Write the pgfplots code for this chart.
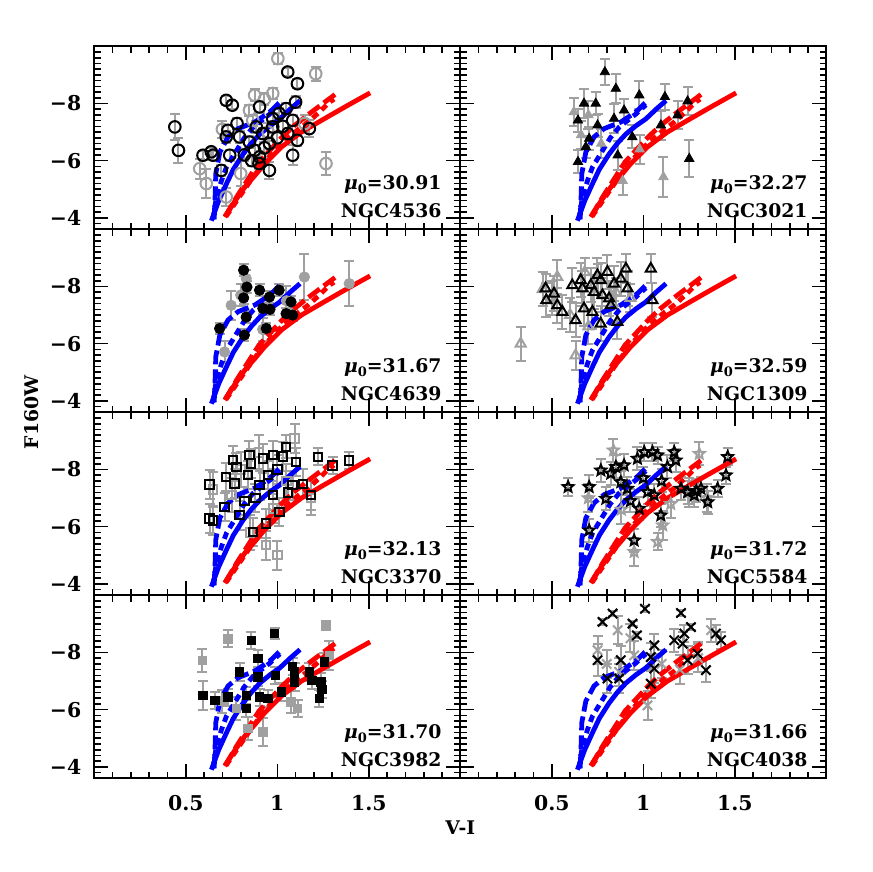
\documentclass[border=0pt]{standalone}
\usepackage{fontspec}
\setmainfont{DejaVu Serif}
\usepackage{pgfplots}
\usepackage{pgfplotstable}
\pgfplotsset{compat=1.18}
\usetikzlibrary{plotmarks}

\definecolor{mygray}{RGB}{160,160,160}
\definecolor{myblue}{RGB}{0,0,255}
\definecolor{myred}{RGB}{255,0,0}

\newcommand{\ff}{\fontsize{9.4}{11}\selectfont\bfseries}

\pgfdeclareplotmark{ostar}{%
  \pgfpathmoveto{\pgfpointpolar{90}{\pgfplotmarksize}}%
  \pgfpathlineto{\pgfpointpolar{126}{0.45\pgfplotmarksize}}%
  \pgfpathlineto{\pgfpointpolar{162}{\pgfplotmarksize}}%
  \pgfpathlineto{\pgfpointpolar{198}{0.45\pgfplotmarksize}}%
  \pgfpathlineto{\pgfpointpolar{234}{\pgfplotmarksize}}%
  \pgfpathlineto{\pgfpointpolar{270}{0.45\pgfplotmarksize}}%
  \pgfpathlineto{\pgfpointpolar{306}{\pgfplotmarksize}}%
  \pgfpathlineto{\pgfpointpolar{342}{0.45\pgfplotmarksize}}%
  \pgfpathlineto{\pgfpointpolar{18}{\pgfplotmarksize}}%
  \pgfpathlineto{\pgfpointpolar{54}{0.45\pgfplotmarksize}}%
  \pgfpathclose
  \pgfusepathqstroke
}

\pgfplotstableread{
x y
0.640 -3.90
0.680 -4.60
0.722 -5.19
0.760 -5.70
0.813 -6.23
0.860 -6.62
0.905 -6.93
0.960 -7.22
1.014 -7.46
1.070 -7.80
1.124 -8.10
}\bsolid
\pgfplotstableread{
x y
0.648 -3.95
0.667 -4.72
0.695 -5.30
0.722 -5.77
0.777 -6.35
0.820 -6.80
0.868 -7.17
0.959 -7.63
1.014 -7.95
}\binner
\pgfplotstableread{
x y
0.655 -3.95
0.660 -4.70
0.664 -5.55
0.686 -6.30
0.731 -6.83
0.786 -7.12
0.877 -7.35
0.959 -7.70
1.010 -8.02
}\bouter
\pgfplotstableread{
x y
0.713 -4.03
0.770 -4.60
0.823 -5.08
0.880 -5.50
0.932 -5.90
1.023 -6.48
1.132 -7.00
1.242 -7.41
1.370 -7.88
1.507 -8.37
}\rsolid
\pgfplotstableread{
x y
0.720 -4.05
0.800 -4.80
0.870 -5.45
0.940 -6.02
1.000 -6.45
1.060 -6.80
1.120 -7.12
1.169 -7.35
1.230 -7.70
1.280 -8.02
1.310 -8.15
}\rinner
\pgfplotstableread{
x y
0.715 -4.05
0.780 -4.75
0.840 -5.35
0.900 -5.95
0.968 -6.42
1.030 -6.85
1.096 -7.24
1.187 -7.70
1.260 -8.05
1.334 -8.40
}\router

\newcommand{\curves}{%
\addplot[myblue,line width=2.4pt,dash pattern=on 7pt off 2.5pt] table {\bouter};
\addplot[myblue,line width=2.4pt,dash pattern=on 3.5pt off 2.5pt] table {\binner};
\addplot[myblue,line width=2.4pt] table {\bsolid};
\addplot[myred,line width=2.4pt,dash pattern=on 7pt off 2.5pt] table {\router};
\addplot[myred,line width=2.4pt,dash pattern=on 3.5pt off 2.5pt] table {\rinner};
\addplot[myred,line width=2.4pt] table {\rsolid};
}

\newcommand{\plab}[4]{%
\node[anchor=base east,inner sep=0pt,font=\ff] at (#1+173.8pt,#2+20pt) {{\itshape μ}\raisebox{-0.45ex}{\fontsize{6.5}{7}\selectfont\bfseries 0}=#3};
\node[anchor=base east,inner sep=0pt,font=\ff] at (#1+173.8pt,#2+5.7pt) {#4};
}

\pgfplotsset{
panel/.style={
 scale only axis, width=183pt, height=91.5pt, anchor=south west,
 xmin=0, xmax=2, ymin=-10, ymax=-3.6, y dir=reverse,
 axis line style={line width=1pt},
 tick style={black, line width=0.8pt},
 major tick length=7pt, minor tick length=3.3pt,
 xtick={0.5,1,1.5}, minor xtick={0,0.1,...,2},
 ytick={-8,-6,-4}, minor ytick={-10,-9.8,...,-3.6},
 xticklabels={}, yticklabels={},
 tick align=inside,
 tick label style={font=\ff},
 xticklabel style={yshift=-5pt,font=\fontsize{10.2}{12}\selectfont\bfseries},
 yticklabel style={xshift=-3pt,font=\fontsize{10.2}{12}\selectfont\bfseries},
},
yl/.style={yticklabels={−8,−6,−4}},
xl/.style={xticklabels={0.5,1,1.5}},
errs/.style={only marks,
 /pgfplots/error bars/y dir=both,
 /pgfplots/error bars/y explicit,
 /pgfplots/error bars/error bar style={mygray,line width=1pt},
 /pgfplots/error bars/error mark options={rotate=90,mygray,line width=1pt,mark size=2.5pt}},
table/tb/.style={x index=0,y index=1,y error index=2,row sep=\\,header=false},
}

\begin{document}
\begin{tikzpicture}
\useasboundingbox (0,0) rectangle (436pt,436pt);

% ---------- Panel 1: NGC4536
\begin{axis}[panel,yl,at={(47.15pt,321.35pt)}]
\addplot[errs,mark=o,mark size=2.9pt,mark options={mygray,line width=1pt}] table[tb]{
1.003 -9.57 0.2\\ 1.21 -9.04 0.25\\ 0.876 -8.29 0.2\\ 0.975 -8.35 0.2\\ 0.93 -8.15 0.2\\
0.848 -7.76 0.2\\ 0.866 -7.41 0.2\\ 0.576 -5.72 0.35\\ 0.612 -5.2 0.5\\ 0.721 -4.73 0.3\\
1.266 -5.9 0.4\\ 0.70 -7.10 0.3\\ 0.80 -5.55 0.45\\ 1.15 -7.30 0.3\\ 0.95 -7.0 0.3\\
};
\addplot[errs,mark=o,mark size=2.9pt,mark options={black,line width=1pt}] table[tb]{
0.44 -7.18 0.45\\ 0.46 -6.36 0.45\\ 0.594 -6.19 0.15\\ 0.639 -6.31 0.15\\ 0.649 -6.19 0.15\\
0.721 -8.11 0.15\\ 0.754 -7.94 0.15\\ 0.73 -7.06 0.2\\ 0.721 -6.83 0.2\\ 0.74 -6.19 0.2\\
0.694 -5.66 0.2\\ 0.794 -6.83 0.2\\ 0.848 -6.65 0.2\\ 0.903 -7.88 0.2\\ 0.92 -6.95 0.2\\
0.876 -6.36 0.2\\ 0.903 -6.13 0.2\\ 0.957 -5.66 0.3\\ 0.975 -7.18 0.2\\ 1.01 -7.65 0.2\\
1.057 -9.10 0.15\\ 1.11 -8.69 0.15\\ 1.10 -8.05 0.2\\ 1.084 -7.41 0.2\\ 1.057 -6.95 0.2\\
1.084 -6.19 0.35\\ 1.11 -6.71 0.2\\ 1.175 -7.12 0.3\\ 0.957 -6.6 0.2\\ 1.048 -7.82 0.2\\
0.885 -7.18 0.2\\ 0.975 -7.47 0.2\\ 0.82 -6.2 0.2\\ 0.86 -6.0 0.2\\ 0.93 -6.45 0.2\\
1.0 -6.8 0.2\\ 0.78 -7.3 0.2\\ 1.03 -7.2 0.2\\ 0.90 -5.9 0.2\\
};
\curves
\end{axis}

% ---------- Panel 2: NGC3021
\begin{axis}[panel,at={(230.15pt,321.35pt)}]
\addplot[errs,mark=triangle*,mark size=2.7pt,mark options={mygray,fill=mygray}] table[tb]{
1.11 -5.43 0.7\\ 0.77 -6.6 0.5\\ 0.887 -5.3 0.5\\ 0.66 -6.9 0.5\\ 0.98 -6.4 0.5\\
0.70 -7.6 0.5\\ 0.62 -7.7 0.5\\
};
\addplot[errs,mark=triangle*,mark size=2.7pt,mark options={black,fill=black}] table[tb]{
0.79 -9.10 0.47\\ 0.85 -8.52 0.5\\ 0.978 -8.29 0.5\\ 1.118 -8.23 0.45\\ 1.242 -8.08 0.5\\
0.676 -8.0 0.5\\ 0.74 -8.0 0.4\\ 0.895 -7.76 0.4\\ 0.643 -7.41 0.4\\ 0.75 -7.24 0.4\\
0.84 -7.47 0.5\\ 0.704 -6.77 0.4\\ 0.686 -6.48 0.4\\ 0.94 -6.83 0.4\\ 0.643 -5.96 0.4\\
1.096 -7.24 0.5\\ 1.187 -7.59 0.5\\ 1.251 -6.07 0.65\\ 0.86 -6.19 0.5\\
};
\curves
\end{axis}

% ---------- Panel 3: NGC4639
\begin{axis}[panel,yl,at={(47.15pt,229.85pt)}]
\addplot[errs,mark=*,mark size=2.6pt,mark options={mygray,fill=mygray}] table[tb]{
1.148 -8.33 0.8\\ 1.393 -8.1 0.8\\ 0.748 -7.34 0.5\\ 0.712 -5.71 0.4\\ 0.83 -8.28 0.3\\
0.92 -6.5 0.4\\ 1.05 -7.5 0.5\\ 0.80 -7.7 0.4\\
};
\addplot[errs,mark=*,mark size=2.6pt,mark options={black,fill=black}] table[tb]{
0.816 -8.57 0.2\\ 0.834 -7.98 0.2\\ 0.903 -7.87 0.2\\ 0.816 -7.6 0.2\\ 0.957 -7.63 0.2\\
1.01 -7.87 0.2\\ 0.921 -7.23 0.2\\ 0.83 -6.93 0.2\\ 0.685 -6.53 0.2\\ 0.94 -6.53 0.2\\
1.075 -7.46 0.2\\ 1.048 -7.05 0.2\\ 1.084 -7.0 0.2\\ 0.82 -6.3 0.2\\ 0.96 -7.2 0.2\\
};
\curves
\end{axis}

% ---------- Panel 4: NGC1309
\begin{axis}[panel,at={(230.15pt,229.85pt)}]
\addplot[errs,mark=triangle,mark size=2.9pt,mark options={mygray,line width=1pt}] table[tb]{
0.33 -6.0 0.6\\ 0.63 -5.59 0.5\\ 0.53 -8.33 0.6\\ 0.5 -7.6 0.6\\ 0.6 -7.0 0.6\\
0.70 -6.6 0.6\\ 0.75 -8.3 0.5\\ 0.85 -7.8 0.5\\ 0.93 -7.6 0.5\\ 0.45 -7.9 0.6\\
0.68 -8.5 0.5\\
};
\addplot[errs,mark=triangle,mark size=2.9pt,mark options={black,line width=1pt}] table[tb]{
0.466 -7.93 0.5\\ 0.512 -7.75 0.6\\ 0.47 -7.52 0.6\\ 0.53 -7.34 0.6\\ 0.558 -7.11 0.6\\
0.612 -8.04 0.6\\ 0.658 -8.22 0.6\\ 0.667 -7.93 0.6\\ 0.713 -8.04 0.6\\ 0.749 -8.39 0.6\\
0.804 -8.51 0.6\\ 0.767 -8.22 0.6\\ 0.731 -7.81 0.6\\ 0.777 -7.69 0.6\\ 0.813 -7.58 0.6\\
0.84 -8.10 0.6\\ 0.905 -8.62 0.5\\ 0.877 -8.27 0.6\\ 1.041 -8.62 0.5\\ 0.676 -7.23 0.6\\
0.722 -7.11 0.6\\ 0.63 -6.82 0.6\\ 0.767 -6.70 0.6\\ 0.858 -6.76 0.6\\ 0.914 -7.93 0.6\\
1.05 -7.52 0.6\\ 0.822 -7.34 0.6\\
};
\curves
\end{axis}

% ---------- Panel 5: NGC3370
\begin{axis}[panel,yl,at={(47.15pt,138.35pt)}]
\addplot[errs,mark=square,mark size=2.1pt,mark options={mygray,line width=1pt}] table[tb]{
1.094 -9.08 0.5\\ 0.939 -5.35 0.5\\ 0.975 -6.63 0.5\\ 0.85 -5.8 0.6\\ 0.75 -7.1 0.6\\
0.65 -7.3 0.6\\ 1.184 -7.0 0.6\\ 0.80 -8.0 0.6\\ 0.90 -8.6 0.6\\ 1.0 -5.0 0.5\\
1.05 -7.6 0.6\\
};
\addplot[errs,mark=square,mark size=2.1pt,mark options={black,line width=1pt}] table[tb]{
0.63 -7.47 0.5\\ 0.63 -6.28 0.5\\ 0.649 -6.22 0.5\\ 0.712 -6.69 0.5\\ 0.721 -7.74 0.5\\
0.758 -8.33 0.5\\ 0.776 -8.09 0.5\\ 0.767 -7.51 0.5\\ 0.848 -8.5 0.5\\ 0.857 -8.21 0.5\\
0.839 -7.8 0.5\\ 0.921 -8.38 0.5\\ 0.975 -8.5 0.5\\ 1.03 -8.45 0.5\\ 1.048 -8.79 0.4\\
1.103 -8.26 0.5\\ 1.221 -8.44 0.3\\ 1.302 -8.14 0.3\\ 1.393 -8.32 0.3\\ 0.866 -5.82 0.5\\
0.939 -6.11 0.5\\ 1.012 -6.52 0.5\\ 1.184 -7.1 0.5\\ 1.084 -7.45 0.5\\ 0.903 -7.45 0.5\\
0.975 -7.1 0.5\\ 0.794 -6.4 0.5\\ 0.95 -7.8 0.5\\ 1.0 -8.0 0.5\\ 0.88 -7.0 0.5\\
0.82 -6.9 0.5\\ 1.06 -7.2 0.5\\ 1.14 -7.5 0.5\\
};
\curves
\end{axis}

% ---------- Panel 6: NGC5584
\begin{axis}[panel,at={(230.15pt,138.35pt)}]
\addplot[errs,mark=ostar,mark size=2.8pt,mark options={mygray,line width=1pt}] table[tb]{
0.837 -8.67 0.4\\ 1.306 -8.55 0.4\\ 0.95 -5.12 0.5\\ 1.078 -5.47 0.3\\ 1.106 -6.05 0.5\\
0.70 -7.0 0.5\\ 0.88 -6.6 0.5\\ 1.15 -6.8 0.5\\ 1.25 -7.2 0.5\\ 1.35 -7.0 0.5\\
};
\addplot[errs,mark=ostar,mark size=2.8pt,mark options={black,line width=1pt}] table[tb]{
0.589 -7.39 0.3\\ 0.704 -7.39 0.4\\ 0.704 -5.87 0.4\\ 0.768 -7.97 0.4\\ 0.822 -7.86 0.4\\
0.85 -8.09 0.4\\ 0.877 -7.56 0.4\\ 0.795 -6.98 0.4\\ 0.895 -8.15 0.4\\ 0.968 -8.38 0.4\\
1.005 -8.61 0.3\\ 1.05 -8.61 0.3\\ 1.078 -8.5 0.3\\ 1.132 -8.09 0.4\\ 1.169 -8.61 0.3\\
1.178 -8.32 0.4\\ 0.95 -5.52 0.4\\ 1.096 -6.4 0.4\\ 1.242 -7.21 0.4\\ 1.352 -6.86 0.4\\
1.406 -7.33 0.3\\ 1.452 -7.8 0.3\\ 1.461 -8.44 0.3\\ 1.279 -7.1 0.4\\ 1.023 -7.21 0.4\\
0.978 -6.63 0.4\\ 1.06 -7.1 0.4\\ 0.913 -7.33 0.4\\ 1.206 -7.33 0.4\\ 1.315 -7.33 0.4\\
1.0 -7.7 0.4\\ 1.1 -7.6 0.4\\ 1.29 -7.25 0.4\\ 0.93 -6.9 0.4\\
};
\curves
\end{axis}

% ---------- Panel 7: NGC3982
\begin{axis}[panel,yl,xl,at={(47.15pt,46.85pt)}]
\addplot[errs,mark=square*,mark size=2.1pt,mark options={mygray,fill=mygray}] table[tb]{
0.59 -7.73 0.4\\ 0.73 -8.48 0.3\\ 1.266 -8.95 0.15\\ 1.284 -7.90 0.5\\ 1.111 -6.04 0.3\\
0.921 -5.22 0.5\\ 0.839 -5.34 0.4\\ 1.075 -6.27 0.4\\ 0.776 -6.04 0.4\\ 0.70 -6.3 0.4\\
};
\addplot[errs,mark=square*,mark size=2.1pt,mark options={black,fill=black}] table[tb]{
0.594 -6.5 0.5\\ 0.658 -6.33 0.3\\ 0.73 -6.44 0.3\\ 0.794 -7.32 0.3\\ 0.83 -6.5 0.3\\
0.83 -6.04 0.3\\ 0.857 -8.43 0.3\\ 0.894 -7.79 0.3\\ 0.894 -7.14 0.3\\ 0.903 -6.44 0.3\\
0.985 -8.66 0.2\\ 0.99 -7.2 0.3\\ 0.948 -6.39 0.3\\ 1.021 -6.62 0.3\\ 1.084 -7.52 0.3\\
1.094 -7.32 0.3\\ 1.094 -6.97 0.3\\ 1.175 -7.32 0.3\\ 1.19 -7.03 0.3\\ 1.239 -6.97 0.3\\
1.23 -6.39 0.3\\ 1.244 -6.7 0.3\\ 1.257 -7.67 0.3\\
};
\curves
\end{axis}

% ---------- Panel 8: NGC4038
\begin{axis}[panel,xl,at={(230.15pt,46.85pt)}]
\addplot[errs,mark=x,mark size=3.3pt,mark options={mygray,line width=1pt}] table[tb]{
0.75 -8.08 0.5\\ 0.86 -8.78 0.5\\ 1.023 -6.15 0.5\\ 0.868 -7.32 0.5\\ 1.37 -8.78 0.4\\
0.80 -7.6 0.5\\ 0.95 -7.9 0.5\\ 1.10 -7.6 0.5\\ 1.20 -7.4 0.5\\ 1.30 -7.8 0.5\\
0.93 -8.5 0.5\\
};
\addplot[errs,mark=x,mark size=3.3pt,mark options={black,line width=1pt}] table[tb]{
0.777 -9.07 0.1\\ 0.832 -9.36 0.1\\ 0.941 -9.01 0.1\\ 0.965 -8.6 0.1\\ 1.009 -9.53 0.1\\
1.206 -9.38 0.1\\ 1.26 -8.89 0.1\\ 1.224 -8.66 0.3\\ 1.169 -8.43 0.4\\ 1.215 -8.31 0.4\\
1.06 -8.25 0.4\\ 1.397 -8.66 0.3\\ 1.425 -8.43 0.3\\ 0.75 -7.73 0.55\\ 0.877 -7.73 0.5\\
0.804 -7.09 0.5\\ 0.868 -7.09 0.5\\ 1.041 -7.84 0.5\\ 1.06 -7.44 0.5\\ 1.041 -6.91 0.5\\
1.242 -7.73 0.5\\ 1.342 -7.38 0.4\\ 1.297 -7.96 0.4\\
};
\curves
\end{axis}

\plab{47.15pt}{321.35pt}{30.91}{NGC4536}
\plab{230.15pt}{321.35pt}{32.27}{NGC3021}
\plab{47.15pt}{229.85pt}{31.67}{NGC4639}
\plab{230.15pt}{229.85pt}{32.59}{NGC1309}
\plab{47.15pt}{138.35pt}{32.13}{NGC3370}
\plab{230.15pt}{138.35pt}{31.72}{NGC5584}
\plab{47.15pt}{46.85pt}{31.70}{NGC3982}
\plab{230.15pt}{46.85pt}{31.66}{NGC4038}

\node[rotate=90,font=\ff] at (16pt,229.85pt) {F160W};
\node[font=\ff] at (230.15pt,22pt) {V-I};
\end{tikzpicture}
\end{document}
